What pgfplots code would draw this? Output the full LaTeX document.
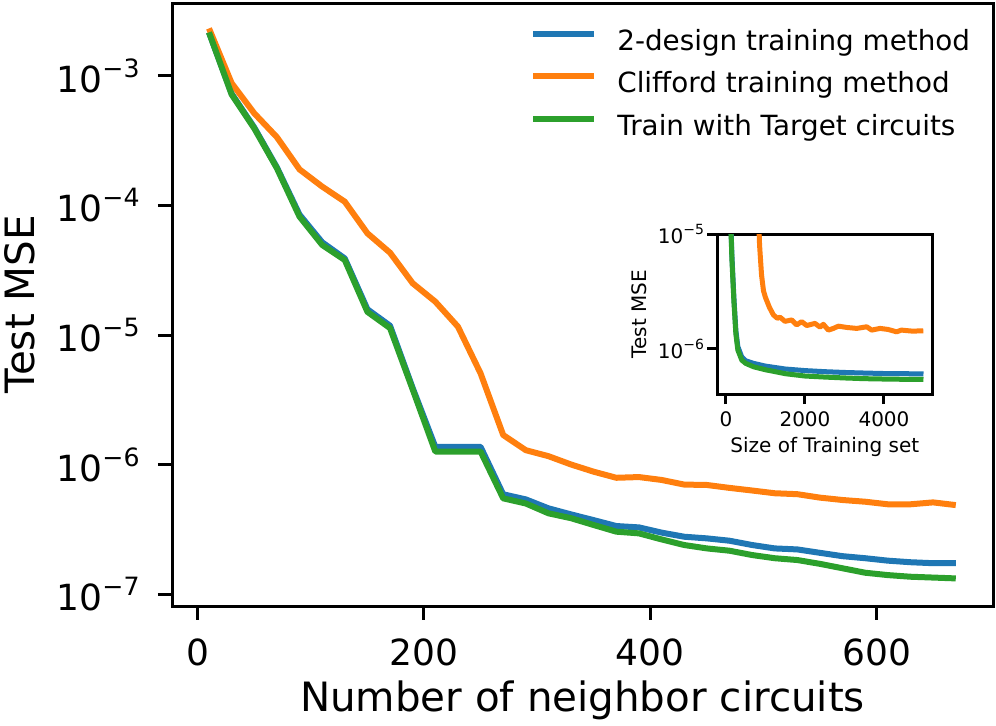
\documentclass[border=0pt]{standalone}
\usepackage{pgfplots}
\usepackage{pgfplotstable}
\pgfplotsset{compat=1.18}
\usepackage{fontspec}
\setmainfont{DejaVu Sans}

\definecolor{tabblue}{HTML}{1F77B4}
\definecolor{taborange}{HTML}{FF7F0E}
\definecolor{tabgreen}{HTML}{2CA02C}

% 10^-n written with text glyphs
\newcommand\mainexp[1]{10\raisebox{7.5pt}{\fontsize{12.6}{12.6}\selectfont −#1}}
\newcommand\insetexp[1]{10\raisebox{4.2pt}{\fontsize{7}{7}\selectfont −#1}}

% main plot: number of neighbor circuits
\pgfplotstableread{
x   blue     orange   green
10  2.17e-3  2.33e-3  2.17e-3
30  7.3e-4   8.8e-4   7.2e-4
50  4.0e-4   5.15e-4  3.94e-4
70  1.97e-4  3.37e-4  1.94e-4
90  8.5e-5   1.9e-4   8.2e-5
110 5.2e-5   1.40e-4  4.96e-5
130 3.9e-5   1.07e-4  3.79e-5
150 1.58e-5  6.1e-5   1.51e-5
170 1.18e-5  4.32e-5  1.13e-5
190 3.9e-6   2.51e-5  3.8e-6
210 1.37e-6  1.81e-5  1.26e-6
230 1.37e-6  1.16e-5  1.26e-6
250 1.37e-6  5.06e-6  1.26e-6
270 5.89e-7  1.69e-6  5.48e-7
290 5.38e-7  1.29e-6  5.0e-7
310 4.59e-7  1.16e-6  4.2e-7
330 4.12e-7  1.0e-6   3.85e-7
350 3.72e-7  8.8e-7   3.41e-7
370 3.35e-7  7.9e-7   3.03e-7
390 3.27e-7  8.0e-7   2.94e-7
410 2.98e-7  7.6e-7   2.64e-7
430 2.77e-7  7.0e-7   2.39e-7
450 2.69e-7  6.95e-7  2.25e-7
470 2.58e-7  6.6e-7   2.16e-7
490 2.39e-7  6.3e-7   2.0e-7
510 2.25e-7  6.0e-7   1.89e-7
530 2.21e-7  5.9e-7   1.83e-7
550 2.08e-7  5.55e-7  1.71e-7
570 1.96e-7  5.32e-7  1.58e-7
590 1.89e-7  5.16e-7  1.46e-7
610 1.81e-7  4.93e-7  1.40e-7
630 1.76e-7  4.93e-7  1.36e-7
650 1.73e-7  5.1e-7   1.34e-7
670 1.73e-7  4.86e-7  1.32e-7
}\maindata

% inset: size of training set
\pgfplotstableread{
x    blue     green
50   2e-4     2e-4
100  2.2e-5   2.0e-5
150  6.5e-6   6.0e-6
200  2.8e-6   2.6e-6
250  1.45e-6  1.35e-6
300  1.05e-6  9.8e-7
400  8.5e-7   8.0e-7
500  7.9e-7   7.5e-7
700  7.5e-7   7.0e-7
1000 7.1e-7   6.6e-7
1500 6.7e-7   6.1e-7
2000 6.49e-7  5.82e-7
2500 6.35e-7  5.7e-7
3000 6.25e-7  5.6e-7
3500 6.18e-7  5.52e-7
4000 6.12e-7  5.48e-7
4500 6.1e-7   5.45e-7
5000 6.07e-7  5.44e-7
}\insetbg

\pgfplotstableread{
x    y
700  1e-4
750  6e-5
800  2.5e-5
850  8e-6
900  4.4e-6
950  3.2e-6
1000 2.8e-6
1100 2.3e-6
1200 1.98e-6
1300 1.85e-6
1367 1.89e-6
1494 1.74e-6
1662 1.79e-6
1789 1.62e-6
1916 1.73e-6
2043 1.60e-6
2253 1.67e-6
2380 1.55e-6
2465 1.64e-6
2591 1.46e-6
2718 1.51e-6
2845 1.58e-6
3056 1.54e-6
3309 1.51e-6
3562 1.56e-6
3689 1.46e-6
3900 1.51e-6
4100 1.48e-6
4320 1.41e-6
4440 1.46e-6
4720 1.43e-6
4995 1.44e-6
}\insetorange

\begin{document}
\begin{tikzpicture}
\useasboundingbox (0,0) rectangle (498pt,362.5pt);

\begin{axis}[
    at={(86pt,59.5pt)}, anchor=south west,
    scale only axis, width=410.5pt, height=301.5pt,
    ymode=log,
    xmin=-22.7, xmax=702.9,
    ymin=8.08e-8, ymax=3.66e-3,
    axis line style={line width=1.5pt},
    tick align=outside, xtick pos=bottom, ytick pos=left,
    major tick length=7pt,
    every tick/.style={line width=1.5pt, black},
    yminorticks=false,
    xtick={0,200,400,600},
    ytick={1e-7,1e-6,1e-5,1e-4,1e-3},
    yticklabels={\mainexp{7},\mainexp{6},\mainexp{5},\mainexp{4},\mainexp{3}},
    /pgf/number format/assume math mode=true,
    tick label style={font=\fontsize{18}{18}\selectfont, inner sep=0pt},
    xticklabel style={yshift=-9pt},
    yticklabel style={xshift=-9pt},
    xlabel={Number of neighbor circuits},
    ylabel={Test MSE},
    label style={font=\fontsize{20.2}{20.2}\selectfont},
    xlabel style={at={(axis description cs:0.5,-0.1741)}, anchor=base},
    ylabel style={at={(axis description cs:-0.1669,0.5)}, anchor=base},
    legend cell align=left,
    legend image code/.code={\draw[#1] (0pt,4.5pt) -- (30.5pt,4.5pt);},
    legend style={draw=none, fill=none, at={(0.436,1)}, anchor=north west,
        yshift=-13pt, inner sep=0pt, row sep=7.75pt, column sep=10pt,
        font=\fontsize{13.9}{13.9}\selectfont,
        nodes={inner sep=0pt, text height=10.5pt, text depth=3pt}},
    every axis plot/.append style={line width=3pt, line join=round},
]
\addplot[tabblue] table[x=x, y=blue] {\maindata};
\addplot[taborange] table[x=x, y=orange] {\maindata};
\addplot[tabgreen] table[x=x, y=green] {\maindata};
\legend{2-design training method, Clifford training method, Train with Target circuits}
\end{axis}

\begin{axis}[
    at={(358.65pt,165.5pt)}, anchor=south west,
    scale only axis, width=107.5pt, height=80pt,
    ymode=log,
    xmin=-220, xmax=5223,
    ymin=4.06e-7, ymax=1e-5,
    axis background/.style={fill=white},
    axis line style={line width=1.5pt},
    tick align=outside, xtick pos=bottom, ytick pos=left,
    major tick length=5pt,
    every tick/.style={line width=1.5pt, black},
    yminorticks=false,
    xtick={0,2000,4000},
    ytick={1e-6,1e-5},
    yticklabels={\insetexp{6},\insetexp{5}},
    scaled x ticks=false,
    /pgf/number format/1000 sep={},
    /pgf/number format/assume math mode=true,
    tick label style={font=\fontsize{10}{10}\selectfont, inner sep=0pt},
    xticklabel style={yshift=-3.5pt},
    yticklabel style={xshift=-1.5pt},
    xlabel={Size of Training set},
    ylabel={Test MSE},
    label style={font=\fontsize{10}{10}\selectfont},
    xlabel style={at={(axis description cs:0.5,-0.366)}, anchor=base},
    ylabel style={at={(axis description cs:-0.3284,0.5)}, anchor=base},
    every axis plot/.append style={line width=2.5pt, line join=round},
]
\addplot[tabblue] table[x=x, y=blue] {\insetbg};
\addplot[taborange] table[x=x, y=y] {\insetorange};
\addplot[tabgreen] table[x=x, y=green] {\insetbg};
\end{axis}
\end{tikzpicture}
\end{document}
